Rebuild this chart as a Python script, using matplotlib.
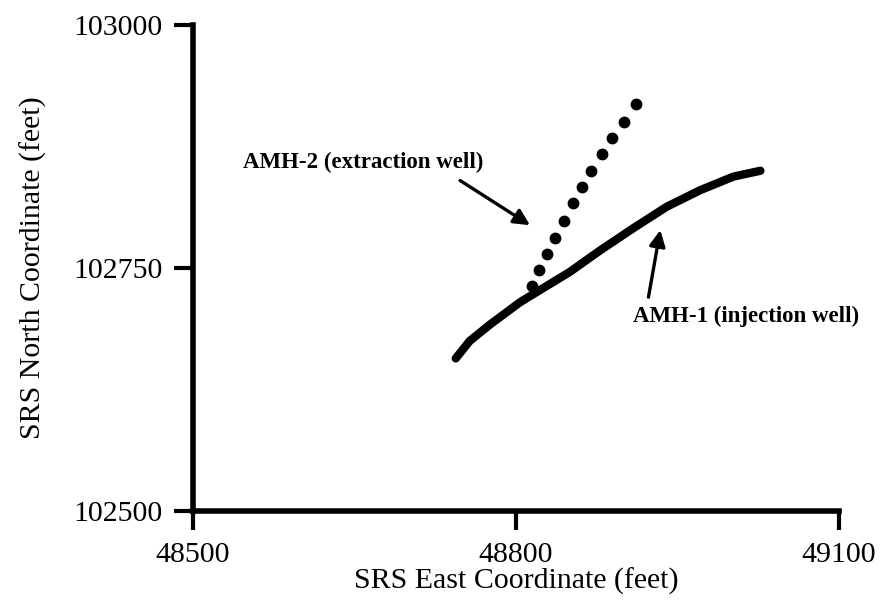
import matplotlib
matplotlib.use("Agg")
from matplotlib import pyplot as plt

# AMH-1 injection well trace (solid line)
amh1_east = [48744, 48757, 48776, 48804, 48850, 48878, 48909, 48940, 48971, 49002, 49027]
amh1_north = [102657, 102675, 102692, 102715, 102746, 102768, 102791, 102813, 102830, 102844, 102850]

# AMH-2 extraction well trace (dots)
amh2_east = [48815, 48821, 48829, 48836, 48845, 48853, 48861, 48870, 48880, 48889, 48900, 48911]
amh2_north = [102731, 102748, 102764, 102781, 102798, 102817, 102833, 102850, 102867, 102884, 102900, 102919]

x_ticks = [48500, 48800, 49100]
y_ticks = [102500, 102750, 103000]

plt.rcParams["font.family"] = ["Liberation Serif", "DejaVu Serif"]

fig = plt.figure(figsize=(8.83, 6.07), dpi=100)
ax = fig.add_axes([0.2186, 0.158, 0.7316, 0.801])

ax.plot(amh1_east, amh1_north, color="black", linewidth=6,
        solid_capstyle="round", solid_joinstyle="round")
ax.plot(amh2_east, amh2_north, "o", color="black", markersize=7.5)

# labels with arrows pointing at each trace
ax.text(48546, 102853, "AMH-2 (extraction well)", fontsize=16.5, fontweight="bold")
ax.annotate("", xy=(48813, 102794), xytext=(48748, 102840),
            arrowprops=dict(arrowstyle="-|>", color="black", lw=2.4,
                            mutation_scale=24, shrinkA=0, shrinkB=0))

ax.text(48909, 102694, "AMH-1 (injection well)", fontsize=16.5, fontweight="bold")
ax.annotate("", xy=(48934, 102789), xytext=(48923, 102720),
            arrowprops=dict(arrowstyle="-|>", color="black", lw=2.4,
                            mutation_scale=24, shrinkA=0, shrinkB=0))

ax.set_xlim(48500, 49100)
ax.set_ylim(102500, 103000)
ax.set_xticks(x_ticks)
ax.set_yticks(y_ticks)

for side in ["top", "right"]:
    ax.spines[side].set_visible(False)
for side in ["left", "bottom"]:
    ax.spines[side].set_linewidth(4)

ax.tick_params(axis="both", direction="out", length=14, width=3, labelsize=21.5)
ax.tick_params(axis="x", pad=8)
ax.tick_params(axis="y", pad=8)

ax.set_xlabel("SRS East Coordinate (feet)", fontsize=21.5, labelpad=0)
ax.set_ylabel("SRS North Coordinate (feet)", fontsize=21.5)
ax.yaxis.set_label_coords(-0.226, 0.5)

fig.savefig("out.png", dpi=100)
